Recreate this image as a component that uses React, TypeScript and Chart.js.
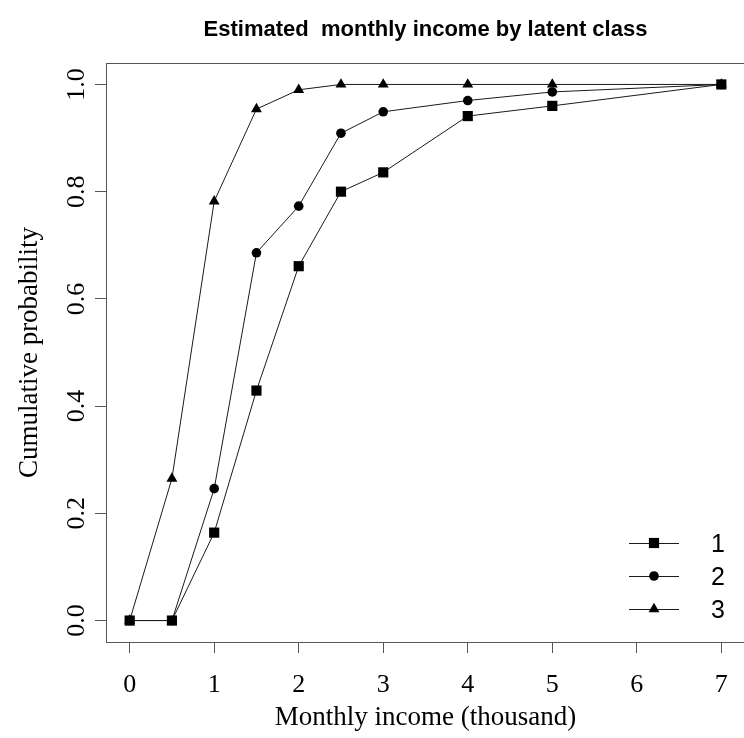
import React, { useEffect, useRef } from "react";
import { Chart, registerables } from "chart.js";

Chart.register(...registerables);

// ---------- data ----------
const chartTitle = "Estimated  monthly income by latent class";
const xAxisTitle = "Monthly income (thousand)";
const yAxisTitle = "Cumulative probability";
const incomeThousand = [0, 0.5, 1, 1.5, 2, 2.5, 3, 4, 5, 7];
const class1 = [0, 0, 0.164, 0.429, 0.661, 0.8, 0.836, 0.941, 0.96, 1.0];
const class2 = [0, 0, 0.246, 0.686, 0.773, 0.909, 0.949, 0.97, 0.986, 1.0];
const class3 = [0, 0.265, 0.782, 0.954, 0.99, 1.0, 1.0, 1.0, 1.0, 1.0];
const seriesLabels = ["1", "2", "3"];
const seriesShapes = ["rect", "circle", "triangle"];
const xTicks = [0, 1, 2, 3, 4, 5, 6, 7];
const xTickLabels = ["0", "1", "2", "3", "4", "5", "6", "7"];
const yTicks = [0, 0.2, 0.4, 0.6, 0.8, 1.0];
const yTickLabels = ["0.0", "0.2", "0.4", "0.6", "0.8", "1.0"];

const SERIF = '"Liberation Serif", "Times New Roman", serif';
const SANS = '"Liberation Sans", Arial, sans-serif';
const INK = "#000";
const LINE = "#1a1a1a";
const AXIS = "#555";

const radii: Record<string, number> = { rect: 7.2, circle: 4.8, triangle: 6.3 };

function drawShape(ctx: CanvasRenderingContext2D, shape: string, x: number, y: number) {
  const r = radii[shape];
  ctx.beginPath();
  if (shape === "rect") {
    const s = r * Math.SQRT1_2;
    ctx.rect(x - s, y - s, 2 * s, 2 * s);
  } else if (shape === "circle") {
    ctx.arc(x, y, r, 0, Math.PI * 2);
  } else {
    for (let k = 0; k < 3; k++) {
      const a = (k * 2 * Math.PI) / 3;
      const px = x + Math.sin(a) * r;
      const py = y - Math.cos(a) * r;
      if (k === 0) ctx.moveTo(px, py);
      else ctx.lineTo(px, py);
    }
    ctx.closePath();
  }
  ctx.fill();
}

const overlay = {
  id: "overlay",
  afterDraw(chart: any) {
    const { ctx, chartArea: a, scales } = chart;
    const xs = scales.x;
    const ys = scales.y;
    ctx.save();
    // plot box
    ctx.strokeStyle = AXIS;
    ctx.lineWidth = 1;
    ctx.strokeRect(Math.round(a.left) + 0.5, Math.round(a.top) + 0.5, Math.round(a.right - a.left), Math.round(a.bottom - a.top));

    ctx.fillStyle = INK;
    // title
    ctx.font = `bold 22px ${SANS}`;
    ctx.textAlign = "center";
    ctx.textBaseline = "alphabetic";
    ctx.fillText(chartTitle, (a.left + a.right) / 2, 36);

    // x tick labels
    ctx.font = `26px ${SERIF}`;
    xTicks.forEach((v, i) => {
      ctx.fillText(xTickLabels[i], xs.getPixelForValue(v), 692);
    });
    // x title
    ctx.font = `27px ${SERIF}`;
    ctx.fillText(xAxisTitle, (a.left + a.right) / 2, 725);

    // y tick labels (rotated)
    ctx.font = `26px ${SERIF}`;
    yTicks.forEach((v, i) => {
      ctx.save();
      ctx.translate(84, ys.getPixelForValue(v));
      ctx.rotate(-Math.PI / 2);
      ctx.fillText(yTickLabels[i], 0, 0);
      ctx.restore();
    });
    // y title
    ctx.font = `27px ${SERIF}`;
    ctx.save();
    ctx.translate(37, (a.top + a.bottom) / 2);
    ctx.rotate(-Math.PI / 2);
    ctx.fillText(yAxisTitle, 0, 0);
    ctx.restore();

    // legend
    const rowsY = [543, 576, 609];
    seriesLabels.forEach((lab, i) => {
      const y = rowsY[i];
      ctx.strokeStyle = LINE;
      ctx.lineWidth = 1;
      ctx.beginPath();
      ctx.moveTo(629, y + 0.5);
      ctx.lineTo(679, y + 0.5);
      ctx.stroke();
      ctx.fillStyle = INK;
      drawShape(ctx, seriesShapes[i], 654, y);
      ctx.font = `25px ${SANS}`;
      ctx.textAlign = "left";
      ctx.textBaseline = "alphabetic";
      ctx.fillText(lab, 711, y + 9);
    });
    ctx.restore();
  },
};

export default function App() {
  const ref = useRef<HTMLCanvasElement | null>(null);
  useEffect(() => {
    if (!ref.current) return;
    const series = [class1, class2, class3];
    const chart = new Chart(ref.current, {
      type: "line",
      data: {
        datasets: series.map((vals, i) => ({
          label: seriesLabels[i],
          data: incomeThousand.map((x, j) => ({ x, y: vals[j] })),
          borderColor: LINE,
          borderWidth: 1,
          pointStyle: seriesShapes[i] as any,
          pointRadius: radii[seriesShapes[i]],
          pointBackgroundColor: INK,
          pointBorderColor: INK,
          pointBorderWidth: 0,
          tension: 0,
          fill: false,
        })),
      },
      options: {
        animation: false,
        responsive: false,
        events: [],
        layout: { padding: { left: 0, top: 63, right: 15, bottom: 0 } },
        plugins: { legend: { display: false }, tooltip: { enabled: false }, title: { display: false } },
        scales: {
          x: {
            type: "linear",
            min: -0.28,
            max: 7.28,
            afterBuildTicks: (s: any) => {
              s.ticks = xTicks.map((v) => ({ value: v }));
            },
            afterFit: (s: any) => {
              s.height = 96;
            },
            ticks: { display: false },
            grid: { drawOnChartArea: false, drawTicks: true, tickLength: 11, color: AXIS, lineWidth: 1 },
            border: { display: false },
          },
          y: {
            type: "linear",
            min: -0.04,
            max: 1.04,
            afterBuildTicks: (s: any) => {
              s.ticks = yTicks.map((v) => ({ value: v }));
            },
            afterFit: (s: any) => {
              s.width = 106;
            },
            ticks: { display: false },
            grid: { drawOnChartArea: false, drawTicks: true, tickLength: 11, color: AXIS, lineWidth: 1 },
            border: { display: false },
          },
        },
      },
      plugins: [overlay],
    });
    return () => chart.destroy();
  }, []);
  return (
    <div style={{ position: "fixed", left: 0, top: 0, width: 744, height: 738, overflow: "hidden", background: "#fff" }}>
      <canvas ref={ref} width={760} height={738} style={{ display: "block" }} />
    </div>
  );
}
